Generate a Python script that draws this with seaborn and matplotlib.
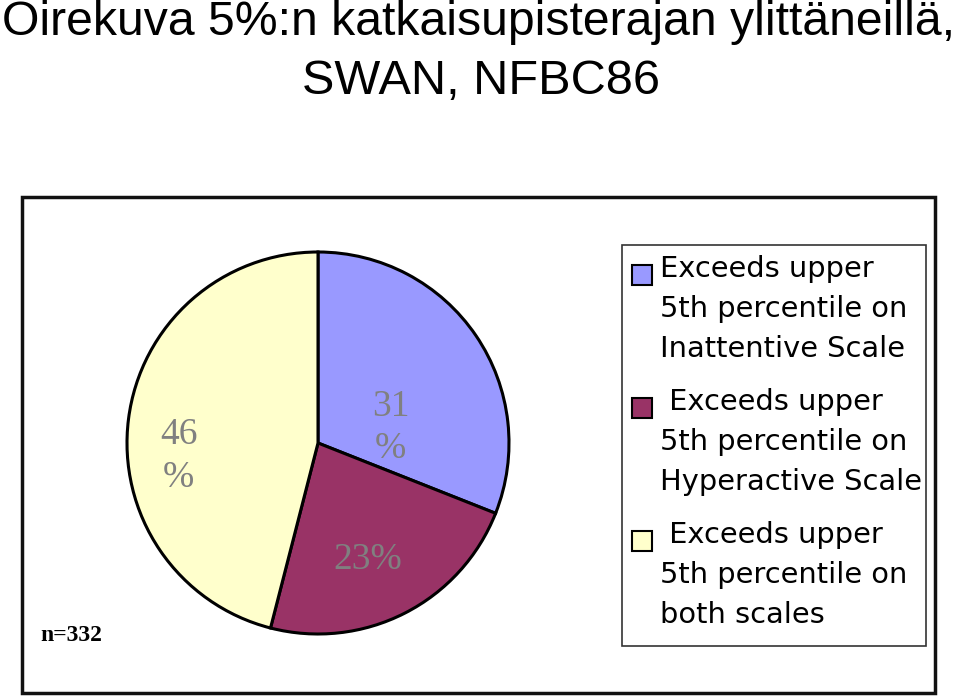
import numpy as np
import matplotlib.pyplot as plt
import seaborn as sns
from matplotlib.patches import Rectangle

# chart data
categories = [
    "Exceeds upper\n5th percentile on\nInattentive Scale",
    " Exceeds upper\n5th percentile on\nHyperactive Scale",
    " Exceeds upper\n5th percentile on\nboth scales",
]
shares = [31, 23, 46]
colors = ["#9999FF", "#993366", "#FFFFCC"]
split_label = [True, False, True]   # "31\n%" style labels
sample_label = "n=332"
title_lines = ["Oirekuva 5%:n katkaisupisterajan ylittäneillä,", "SWAN, NFBC86"]

W, H = 959, 697

sns.set_theme(style="white")
plt.rcParams['font.family'] = ['Liberation Sans', 'DejaVu Sans']


def fx(x):
    return x / W


def fy(y):
    return 1 - y / H


fig = plt.figure(figsize=(W / 100, H / 100), dpi=100)
fig.patch.set_facecolor("white")

# title, two centred lines
fig.text(fx(479), fy(35), title_lines[0], ha="center", va="baseline",
         fontsize=34.7, color="black")
fig.text(fx(481), fy(94), title_lines[1], ha="center", va="baseline",
         fontsize=35, color="black")

# outer frame of the chart area
fig.add_artist(Rectangle((fx(22), fy(693)), fx(935) - fx(22), fy(197) - fy(693),
                         transform=fig.transFigure, fill=False,
                         edgecolor="#111111", linewidth=2.5))

# pie
cx, cy, r = 318, 443, 191
ax = fig.add_axes([fx(cx - r), fy(cy + r), 2 * r / W, 2 * r / H])
wedges, _ = ax.pie(shares, colors=colors, startangle=90, counterclock=False,
                   wedgeprops=dict(edgecolor="black", linewidth=2.2))
ax.set_xlim(-1.0, 1.0)
ax.set_ylim(-1.0, 1.0)
ax.set_aspect("equal")
ax.axis("off")

# percentage labels
label_pos = [(0.38, 0.08), (0.26, -0.61), (-0.73, -0.07)]
for v, brk, (lx, ly) in zip(shares, split_label, label_pos):
    txt = f"{v}\n%" if brk else f"{v}%"
    ax.text(lx, ly, txt, ha="center", va="center", fontsize=27,
            family="Liberation Serif", color="#808080", linespacing=1.3)

fig.text(fx(40), fy(641), sample_label, ha="left", va="baseline",
         fontsize=17, family="Liberation Serif", fontweight="bold", color="black")

# legend box
fig.add_artist(Rectangle((fx(622), fy(646)), fx(926) - fx(622), fy(245) - fy(646),
                         transform=fig.transFigure, fill=False,
                         edgecolor="#333333", linewidth=1.2))
group_tops = [269, 402, 535]
for label, col, top in zip(categories, colors, group_tops):
    fig.add_artist(Rectangle((fx(632), fy(top + 16)), 20 / W, 20 / H,
                             transform=fig.transFigure, facecolor=col,
                             edgecolor="black", linewidth=1.5))
    for i, line in enumerate(label.split("\n")):
        fig.text(fx(660), fy(top + i * 40), line, ha="left", va="center",
                 fontsize=20.8, family="DejaVu Sans", color="black")

fig.savefig("out.png", dpi=100)
plt.close(fig)
